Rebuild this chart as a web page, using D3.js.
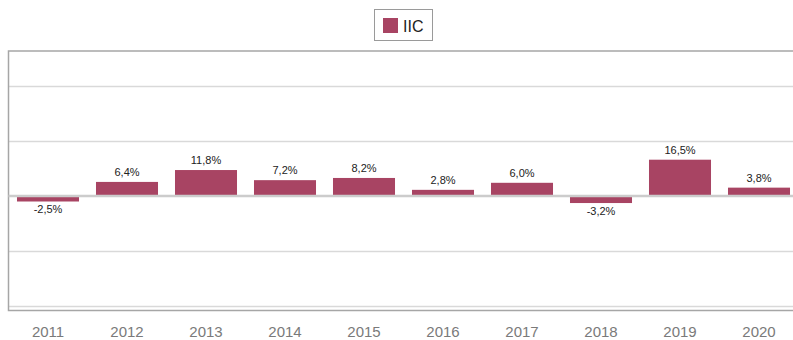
<!DOCTYPE html>
<html>
<head>
<meta charset="utf-8">
<script src="https://cdn.jsdelivr.net/npm/d3@7"></script>
<style>
  html, body { margin: 0; padding: 0; background: #fff; }
  svg { display: block; font-family: "Liberation Sans", Arial, sans-serif; }
</style>
</head>
<body>
<svg id="chart" width="793" height="340"></svg>
<script>
// Annual change of the IIC index, per year
const years = ["2011", "2012", "2013", "2014", "2015", "2016", "2017", "2018", "2019", "2020"];
const iicValues = [-2.5, 6.4, 11.8, 7.2, 8.2, 2.8, 6.0, -3.2, 16.5, 3.8];
const gridValues = [-50, -25, 0, 25, 50];
const seriesName = "IIC";

const barColor = "#a84463";
const svg = d3.select("#chart");

const plot = { left: 8.5, top: 51, bottom: 310.5, right: 798.5 };

const x = d3.scaleBand()
  .domain(years)
  .range([plot.left, plot.right])
  .paddingInner(0.215)
  .paddingOuter(0.1075);

const y = d3.scaleLinear()
  .domain([-50, 50])
  .range([306, 86]);

// Horizontal grid lines
svg.append("g")
  .selectAll("line")
  .data(gridValues.filter(v => v !== 0))
  .join("line")
  .attr("x1", plot.left)
  .attr("x2", 793)
  .attr("y1", d => Math.round(y(d)) + 0.5)
  .attr("y2", d => Math.round(y(d)) + 0.5)
  .attr("stroke", "#d9d9d9")
  .attr("stroke-width", 1.5);

// Plot frame: top, left and bottom edges
const frame = svg.append("g").attr("stroke", "#a6a6a6").attr("stroke-width", 1.5).attr("fill", "none");
frame.append("path")
  .attr("d", `M793,${plot.top}H${plot.left}V${plot.bottom}H793`);

// Bars
svg.append("g")
  .selectAll("rect")
  .data(iicValues)
  .join("rect")
  .attr("x", (d, i) => x(years[i]))
  .attr("width", x.bandwidth())
  .attr("y", d => y(Math.max(0, d)))
  .attr("height", d => Math.abs(y(d) - y(0)))
  .attr("fill", barColor);

// Zero baseline
svg.append("line")
  .attr("x1", plot.left)
  .attr("x2", 793)
  .attr("y1", y(0))
  .attr("y2", y(0))
  .attr("stroke", "#cccccc")
  .attr("stroke-width", 2.5);

// Value labels
const fmt = v => d3.format(".1f")(v).replace(".", ",").replace("−", "-") + "%";
svg.append("g")
  .selectAll("text")
  .data(iicValues)
  .join("text")
  .attr("x", (d, i) => x(years[i]) + x.bandwidth() / 2)
  .attr("y", d => d >= 0 ? y(d) - 6 : y(d) + 11.5)
  .attr("text-anchor", "middle")
  .attr("font-size", 11)
  .attr("fill", "#222")
  .text(fmt);

// Category axis labels
const xAxis = svg.append("g")
  .attr("transform", "translate(0,322)")
  .call(d3.axisBottom(x).tickSize(0).tickPadding(0));
xAxis.select(".domain").remove();
xAxis.selectAll("text")
  .attr("font-size", 15)
  .attr("font-family", "Liberation Sans, Arial, sans-serif")
  .attr("fill", "#7a7a7a")
  .attr("dy", "1em");

// Legend
const legend = svg.append("g");
legend.append("rect")
  .attr("x", 374.5).attr("y", 9.5)
  .attr("width", 58).attr("height", 31)
  .attr("fill", "#fff")
  .attr("stroke", "#9a9a9a");
legend.append("rect")
  .attr("x", 383).attr("y", 18)
  .attr("width", 15).attr("height", 15)
  .attr("fill", barColor);
legend.append("text")
  .attr("x", 403).attr("y", 32)
  .attr("font-size", 16)
  .attr("fill", "#222")
  .text(seriesName);
</script>
</body>
</html>
